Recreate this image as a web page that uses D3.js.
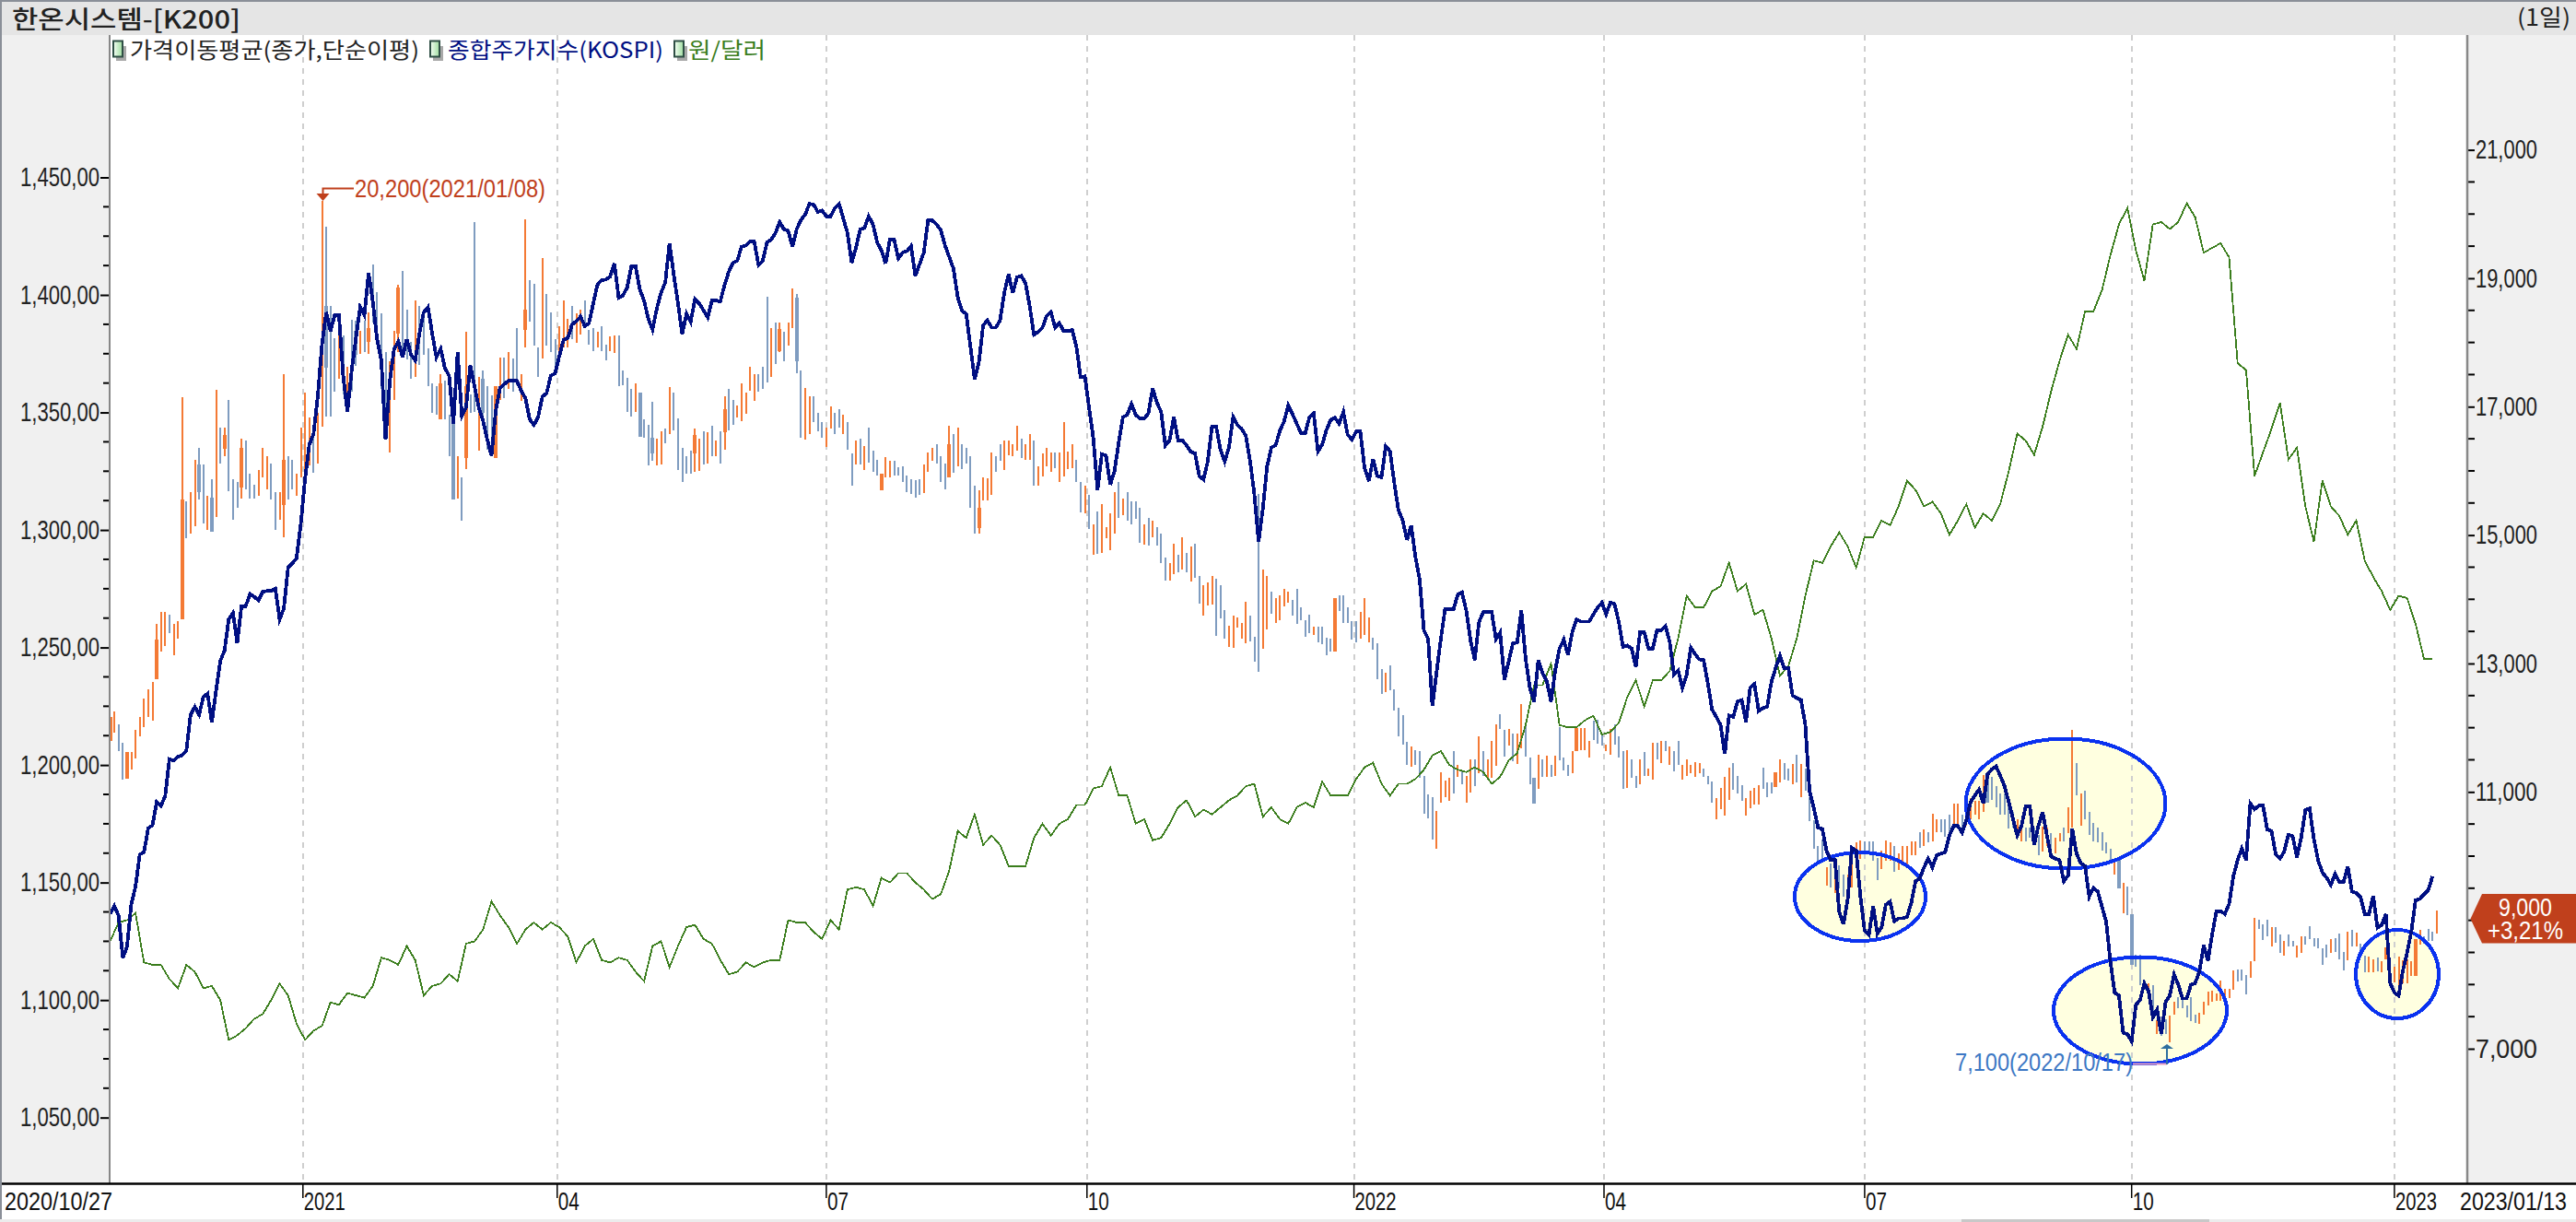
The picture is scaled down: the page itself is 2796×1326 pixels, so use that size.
<!DOCTYPE html>
<html>
<head>
<meta charset="utf-8">
<script src="https://cdn.jsdelivr.net/npm/d3@7"></script>
<style>
html, body { margin: 0; padding: 0; background: #fff; overflow: hidden; }
text { font-family: "Liberation Sans Narrow", "Liberation Sans", sans-serif; }
.kr { font-family: "Noto Sans CJK KR", sans-serif; }
</style>
</head>
<body>
<svg id="chart" width="2796" height="1326"></svg>
<script>
// 종합주가지수 - one value per session
var kospiClose = [
2330,2341,2328,2270,2285,2343,2368,2412,2415,2448,2452,2484,2479,2492,2543,2541,2546,2548,2555,2604,
2615,2604,2628,2633,2593,2637,2678,2692,2735,2744,2702,2753,2753,2770,2766,2761,2773,2774,2774,2777,
2735,2750,2806,2812,2819,2866,2928,2975,2990,3041,3113,3157,3131,3153,3153,3070,3020,3077,3121,3164,
3153,3211,3171,3120,3091,2982,3062,3106,3117,3095,3120,3099,3091,3128,3157,3164,3128,3095,3107,3080,
3070,3004,3102,3015,3026,3084,3055,3026,3008,2982,2960,3022,
3053,3058,3063,3063,3063,3049,3039,3010,3002,3013,3041,3046,3070,3073,3097,3119,3122,3140,3145,3151,
3138,3142,3169,3195,3201,3202,3206,3224,3177,3180,3191,3220,3220,3188,3173,3148,3133,3162,3184,3198,
3252,3209,3169,3127,3155,3144,3175,3169,3160,3150,3173,3173,3172,3195,3213,3225,3228,3247,3249,3254,
3254,3222,3228,3253,3257,3266,3281,3271,3269,3247,3271,3284,3291,3306,3305,3295,3297,3289,3289,3300,
3306,3286,3266,3225,3246,3271,3273,3289,3278,3253,3242,3224,3257,3257,3231,
3239,3241,3248,3207,3223,3239,3283,3283,3278,3270,3249,3233,3217,3178,3159,3155,3110,3065,3088,3139,
3146,3136,3136,3146,3184,3209,3184,3205,3207,3197,3165,3126,3130,3136,3152,3157,3136,3142,3131,3131,
3133,3110,3068,3069,3026,2984,2913,2962,2960,2920,2939,2978,3013,3016,3031,3016,3011,3011,3018,3052,
3033,3020,2974,2981,3013,2981,2981,2974,2965,2963,2932,2927,2952,3000,3000,2968,2952,2971,3013,3002,
2997,2987,2952,2907,2842,2887,2945,2971,2974,2994,3007,3029,3017,3004,
2991,2991,3013,3018,2966,2975,2995,3009,3012,3004,3020,2989,2982,2993,2993,2943,2925,2955,2932,2930,
2973,2966,2923,2885,2871,2844,2864,2821,2790,2720,2708,2616,2663,2708,2749,2749,2749,2769,2772,2747,
2706,2679,2731,2745,2745,2745,2708,2717,2652,2677,2702,2703,2747,2681,2641,2622,2679,2661,2650,2622,
2665,2695,2707,2686,2717,2735,2732,2732,2732,2742,2751,2758,2742,2758,2756,2731,2697,2699,2695,2670,
2717,2717,2695,2695,2720,2720,2726,2704,2659,2665,2641,2659,
2696,2687,2680,2679,2647,2611,2601,2590,2550,2603,2601,2622,2624,2594,2641,2646,2609,2613,2615,2649,
2668,2685,2668,2668,2630,2627,2624,2590,2499,2476,2449,2447,2417,2404,2404,2333,2316,2350,2421,2417,
2354,2307,2301,2341,2303,2312,2343,2347,2320,2324,2324,2326,2345,2375,2379,2394,2406,2394,2411,2413,
2415,2438,2451,2451,2442,2459,2484,2493,2501,2482,2522,2529,2533,2520,2506,2484,2461,2438,2451,2478,
2478,2425,2451,2470,2438,2409,2406,2404,2375,2383,2447,2413,2400,2396,2354,
2366,2361,2340,2319,2264,2222,2218,2167,2165,2155,2205,2212,2235,2224,2188,2199,2165,2209,2218,2247,
2233,2214,2214,2233,2235,2252,2287,2266,2302,2334,2334,2330,2344,2382,2404,2420,2404,2482,2474,2479,
2479,2446,2444,2412,2406,2416,2439,2437,2408,2435,2473,2475,2433,2404,2387,2380,2370,2385,2374,2374,
2395,2361,2359,2353,2330,2330,2355,2311,2315,2330,2235,2222,2218,2252,2277,2306,2349,2351,2357,2363,2382
];

// 원/달러 - one value every second session
var krwRate = [
1125,1133,1134,1137,1116,1115,1115,1109,1105,1115,1112,1105,1106,1100,1083,1085,1088,1092,1094,1100,
1107,1102,1090,1083,1087,1089,1099,1098,1103,1102,1101,1106,1118,1117,1115,1123,1117,1102,1106,1107,
1111,1108,1124,1125,1130,1142,1136,
1131,1124,1130,1133,1130,1133,1131,1127,1116,1123,1126,1117,1116,1118,1117,1112,1108,1123,1125,1114,
1123,1131,1132,1126,1124,1117,1111,1112,1116,1114,1116,1117,1117,1134,1133,1133,1129,1126,1134,1130,
1147,1148,1147,1140,1152,1150,1154,
1154,1150,1147,1143,1145,1155,1172,1169,1179,1166,1170,1166,1157,1157,1157,1169,1175,1170,1175,1177,
1183,1183,1190,1191,1199,1187,1187,1175,1177,1168,1169,1175,1182,1185,1178,1181,1179,1182,1185,1187,
1191,1192,1178,1182,1177,1175,1182,
1184,1182,1193,1187,1187,1187,1194,1199,1201,1192,1187,1192,1192,1194,1198,1204,1206,1200,1198,1197,
1199,1197,1192,1195,1202,1205,1217,1234,1234,1243,1217,1216,1216,1219,1221,1213,1214,1218,1229,1236,
1225,1236,1236,1240,1254,1272,
1267,1267,1274,1276,1286,1274,1277,1264,1266,1254,1238,1242,1254,1272,1287,1286,1293,1299,1293,1284,1297,1297,
1304,1302,1310,1321,1317,1310,1312,1307,1298,1304,1311,1301,1307,1304,1311,1325,1341,1338,1332,1344,
1359,1372,1383,1377,1393,1393,1402,1417,1430,1437,1419,1406,1430,1431,1428,1431,1439,1433,1418,1420,
1422,1416,1371,1368,1323,1333,1343,1354,1330,1335,1310,1295,1321,1310,1306,1298,1304,1287,1280,1274,
1266,1272,1271,1260,1245,1245
];

// 한온시스템 daily range, one entry per session
var barHigh = [
12170,12255,12050,11760,11620,11620,11970,12170,12460,12600,12710,13615,13800,13800,13755,13615,13655,17150,15520,15670,
16165,16355,16100,15605,15875,17260,16675,16675,17110,15875,15820,16495,16470,15960,15780,16015,16355,16225,16110,15670,
15670,17505,16225,16165,15960,16675,17220,16825,16715,16905,20200,19800,18570,18060,18225,18115,17620,18360,18345,18180,
18345,18470,19210,18780,18450,17850,17705,18180,18905,19110,18510,18015,18660,18570,18430,17910,17360,17315,17505,17400,
16880,16880,16225,15900,18165,17195,19870,17460,17565,17315,17170,17315,17770,17770,17847,17748,18225,17501,19913,18966,
18917,17929,19312,18760,18464,18053,18258,18653,18365,18571,18448,18505,18653,18201,18225,18160,18258,17970,18094,18110,
18110,17567,17452,17279,17361,17221,16802,16719,17073,16497,16621,16662,17312,17213,16818,16365,16226,16308,16662,16497,
16612,16596,16703,16472,16612,17156,17271,17106,17024,17361,17213,17625,17501,17501,17625,18711,18225,18308,18308,18160,
18308,18843,18760,17567,17295,17156,17156,16909,16761,16678,17007,16909,16966,16868,16761,16267,16472,16497,16390,16678,
16308,16168,15954,16209,16160,16160,16061,16077,15932,15873,15859,15873,16093,16283,16356,16422,16224,16115,16699,16575,
16677,16422,16356,16224,15764,15691,15895,15881,16283,16224,16422,16480,16480,16422,16699,16495,16422,16568,16480,16078,
16275,16356,16283,16283,16283,16758,16297,16422,16166,15822,15764,15625,15164,15362,15479,15128,15332,15676,15822,15566,
15676,15530,15530,15420,15164,15274,15223,15128,15018,14653,14557,14872,14689,14960,14726,14821,14872,14360,14214,14265,
14360,14324,14214,13826,13593,13739,13724,13629,13958,13739,13410,15639,14470,14360,14126,14017,14068,14163,14119,13995,
14163,13869,13669,13756,13577,13577,13577,13398,13387,14012,14063,14063,13869,13664,13664,13807,14012,13720,13398,13321,
12911,12860,12978,12604,12312,12194,11785,11708,11657,11631,11247,10966,10914,10710,11309,11170,11222,11631,11426,11324,
11247,11513,11513,11862,11631,11513,11800,12056,12210,11964,11974,11913,11913,12374,12056,11529,11222,11580,11513,11565,
11426,11565,12015,11529,11426,11631,11990,11990,11990,11800,12107,12118,11887,11734,11974,12056,11862,11631,11657,11513,
11247,11513,11616,11360,11769,11769,11800,11800,11708,11631,11800,11426,11513,11426,11462,11453,11358,11248,11166,10903,
11056,11228,11372,11453,11248,11104,10903,11023,11056,11104,11372,11152,11152,11310,11510,11453,11358,11429,11573,11429,
11358,10913,10559,10163,10258,9828,9890,9661,9852,9708,9708,10163,10210,10249,10225,10225,10225,9971,10091,10249,
10210,10163,10043,10163,10163,10225,10225,10368,10416,10368,10655,10569,10569,10569,10640,10822,10822,10640,10760,10903,
10855,10855,11262,11262,11238,11095,10975,10975,10770,10688,10569,10497,10449,10449,10449,10330,10464,10449,10354,10282,
10354,10449,10760,11969,11453,10975,11023,10688,10512,10450,10368,10211,10115,9924,9948,9589,9527,9102,8466,8466,
8060,8012,7988,7438,7438,7462,7510,7739,7797,7821,7677,7797,7534,7558,7725,7892,7902,7868,8060,7940,
7940,8213,8241,8241,8155,8361,9040,9016,8944,9016,8896,8896,8777,8681,8777,8681,8609,8753,8753,8906,
8729,8719,8562,8619,8715,8729,8791,8504,8825,8848,8810,8633,8456,8442,8394,8418,8361,8585,8380,8275,
8442,8380,8394,8370,8705,8848,8753,8872,8825,9159
];
var barLow = [
11800,11925,11640,11185,11210,11350,11515,11870,12010,12170,12115,12750,13180,13270,13475,13135,13385,13695,14945,15030,
15135,15550,15175,15080,15055,15285,16115,16230,15690,15235,15425,15565,15710,15565,15565,15615,15895,15710,15550,15080,
15245,14970,15550,15710,15605,15895,16035,16080,15975,16115,16685,16840,16840,17235,17440,17195,16920,17235,17630,17825,
17850,17825,18305,18060,17275,16575,16290,17110,17850,17850,17730,17440,17460,17645,17810,17315,16905,16880,16800,16800,
16225,15550,15565,15220,16025,16905,16920,16315,16865,16330,16245,16205,17110,17135,17271,17238,17337,17090,17929,18324,
17954,17460,17748,17954,17847,17625,17830,17929,17929,18053,17995,18118,18225,17970,17863,17929,17863,17723,17872,17830,
17320,17337,16925,16843,16925,16530,16514,16086,16160,16086,16102,16431,16580,16629,16020,15830,15954,15962,15979,16003,
16102,16119,16226,16226,16119,16324,16637,16719,16826,16777,16884,17254,17090,17230,17279,17378,17460,17666,17847,17707,
17954,18225,17518,16514,16489,16580,16761,16612,16514,16374,16662,16580,16678,16580,16324,15773,16102,16102,16020,16127,
15979,15921,15691,15896,15896,15921,15921,15830,15676,15639,15581,15625,15654,15990,16151,16115,15822,15712,15895,15968,
16078,16034,16115,15420,15018,15018,15544,15544,15625,15983,16151,16020,16239,16224,16319,16202,16173,16173,15771,15771,
15910,16078,15990,16041,15822,15917,16027,16041,15822,15347,15332,15091,14689,14704,14726,14945,14762,15018,15274,15310,
15223,15164,15259,14887,14850,14835,14960,14835,14557,14287,14287,14397,14419,14470,14419,14272,14338,13936,13739,13907,
13922,13424,13702,13388,13263,13249,13556,13388,13315,13337,13022,12876,13227,13534,13775,13629,13680,13885,13944,13753,
13615,13679,13423,13474,13449,13331,13295,13126,13193,13193,13817,13628,13628,13372,13331,13387,13449,13336,13218,12758,
12527,12553,12578,12271,11872,11734,11426,11385,11426,11222,10658,10582,10264,10121,10838,10914,10863,10981,11232,11119,
10838,10991,11094,11298,11247,11186,11222,11400,11979,11554,11718,11478,11442,11682,11554,11119,10812,11042,11237,11237,
11237,11247,11493,11339,11247,11298,11631,11647,11657,11529,11810,11749,11718,11631,11580,11734,11529,11042,11068,11222,
11068,11119,11247,11247,11186,11503,11452,11631,11426,11324,11426,11186,11247,11288,11237,11286,11238,11119,10832,10578,
10736,10626,10880,11033,10975,10856,10631,10750,10808,10808,11047,10913,10975,11071,11142,11190,11176,11114,11142,10913,
11023,10545,10115,9900,9900,9541,9517,9422,9493,9374,9350,9517,9923,9957,10043,10043,9923,9627,9804,9923,
9923,9756,9780,9876,9876,10019,10019,10129,10163,10210,10234,10378,10378,10306,10378,10449,10435,10449,10473,10578,
10640,10569,10688,10832,10880,10760,10640,10640,10435,10449,10306,10234,10234,10282,10258,10019,10067,10163,10067,10043,
10234,10234,10354,10449,10951,10473,10569,10330,10235,10211,10091,10043,9948,9709,9494,9111,9087,8308,8275,7997,
7916,7821,7510,7223,7199,7223,7100,7534,7630,7630,7486,7424,7405,7391,7534,7677,7725,7749,7749,7797,
7787,7916,8045,8060,7854,8107,8370,8872,8691,8753,8600,8657,8490,8456,8600,8600,8428,8490,8619,8705,
8600,8562,8313,8418,8490,8514,8394,8227,8380,8600,8600,8442,8189,8189,8189,8203,8189,8394,8060,8036,
7988,8012,8026,8141,8141,8619,8633,8681,8681,8801
];
var barUp = [
1,1,0,0,1,1,1,1,1,1, 1,1,1,1,0,1,1,1,0,1, 1,0,0,1,0,1,0,1,0,0, 0,1,0,0,0,1,1,1,0,0, 1,1,0,0,1,1,1,1,0,1,
1,0,0,0,1,0,1,0,0,1, 0,1,0,0,0,0,1,1,1,0, 0,0,1,0,0,0,0,0,1,0, 0,0,1,0,1,0,0,1,0,0, 0,1,1,0,1,0,0,1,1,0,
0,0,1,0,0,0,1,1,1,0, 1,1,0,0,0,1,0,0,1,1, 0,0,0,0,1,0,0,0,0,1, 1,0,1,0,0,0,0,0,1,1, 0,1,0,1,0,1,0,0,1,1,
1,1,1,0,0,0,1,0,1,0, 1,1,0,0,1,1,0,0,0,1, 1,0,0,1,0,0,1,0,1,0, 0,0,1,1,1,0,0,0,0,0, 0,0,1,1,1,0,0,0,1,0,
1,0,0,0,0,1,1,1,1,0, 0,1,1,1,1,0,1,1,0,1, 1,1,1,0,1,1,1,1,0,0, 1,0,1,0,1,1,1,1,0,1, 0,0,0,0,1,0,1,0,0,0,
1,1,0,1,0,1,0,0,1,1, 1,0,0,0,1,1,1,1,1,0, 0,0,1,1,0,1,1,1,1,0, 0,0,0,0,1,0,0,0,0,1, 0,0,0,0,0,1,1,1,0,0,
0,1,0,0,0,0,0,1,0,0, 0,0,0,1,1,1,1,0,1,0, 1,1,0,1,0,1,1,1,0,0, 1,0,1,1,0,0,0,1,0,1, 0,1,0,0,0,1,1,1,1,1,
0,0,0,1,1,0,0,0,1,0, 0,1,0,1,1,0,1,0,1,0, 0,1,1,1,1,1,0,0,0,1, 1,1,1,0,0,0,1,1,1,1, 0,0,0,1,1,0,0,1,0,1,
0,0,0,0,0,1,0,1,0,0, 1,1,1,1,0,0,0,0,1,1, 1,0,1,1,1,1,1,0,1,0, 1,1,0,0,0,1,1,0,1,1, 1,1,1,0,0,0,0,0,0,0,
1,1,0,0,0,0,1,1,0,1, 1,0,1,1,0,1,0,0,0,0, 0,0,0,1,0,1,0,0,0,0, 0,1,0,1,0,0,1,1,0,0, 0,0,0,1,1,1,1,1,1,1,
1,1,0,0,0,1,1,0,0,0, 1,0,0,1,0,0,1,1,0,0, 0,0,0,0,1,0,0,0,1,0, 1,0,0,1,1,0,1,1,0,1, 1,1,1,1,1,1,0,0,0,1
];

// sessions where the candle body shows as a fat stick
var wideSession = [0,4,11,17,21,24,27,31,41,51,58,61,68,78,81,84,88,91,98,125,128,138,145,158,162,182,198,205,289,336,346,393,443,474,477,537,544];
var wideHigh = [12170,11620,13367,15550,16100,15590,16560,16355,16165,18568,18180,18220,18856,17358,16880,17317,17440,17317,18505,17221,16514,16555,16966,18208,18695,15954,16422,15420,14012,11222,11990,11310,11262,9948,9102,8585,8705];
var wideLow = [11800,11210,12750,13695,15670,15055,16346,15737,15465,17605,17810,18015,18140,16800,15550,16206,16906,16206,18201,16530,16267,16267,16596,17871,17707,15691,15895,15106,13193,10812,11631,11071,10832,9494,8308,8394,8141];

var krwTicks = [1450,1400,1350,1300,1250,1200,1150,1100,1050];
var krwMinor = [1437.5,1425,1412.5,1387.5,1375,1362.5,1337.5,1325,1312.5,1287.5,1275,1262.5,1237.5,1225,1212.5,1187.5,1175,1162.5,1137.5,1125,1112.5,1087.5,1075,1062.5];
var priceTicks = [21000,19000,17000,15000,13000,11000,7000]; // 9,000 sits behind the last price tag
var priceMinor = [20500,20000,19500,18500,18000,17500,16500,16000,15500,14500,14000,13500,12500,12000,11500,10500,10000,9500,9000,8500,8000,7500];
var monthSession = [45.5,105.5,169,230.5,293.5,352.5,414,477,539];
var monthLabel = ["2021","04","07","10","2022","04","07","10","2023"];

var NAVY = "#000f82", GREEN = "#3a7d1c", UP = "#f47a35", DOWN = "#7f9cc0", MARK = "#c0401c";

var svg = d3.select("#chart");
var plotL = 119, plotR = 2678, plotT = 38, plotB = 1284;

var x = d3.scaleLinear().domain([0, 550]).range([119.5, 2649.5]);
var krwY = d3.scaleLinear().domain([1450, 1050]).range([192.5, 1212.7]);
var priceY = d3.scaleLinear().domain([21000, 7000]).range([162.6, 1138]);
var kospiY = d3.scaleLinear().domain([3305, 2155]).range([222, 1130]); // no axis of its own

function label(g, tx, ty, str, len, size, fill, anchor, cls) {
  return g.append("text").attr("x", tx).attr("y", ty).text(str)
    .attr("class", cls || null)
    .attr("font-size", size).attr("fill", fill).attr("text-anchor", anchor || "start")
    .attr("textLength", len).attr("lengthAdjust", "spacingAndGlyphs");
}

// panels
svg.append("rect").attr("width", 2796).attr("height", 1326).attr("fill", "#fff");
svg.append("rect").attr("x", 0).attr("y", plotT).attr("width", plotL).attr("height", plotB - plotT).attr("fill", "#f0f0f0");
svg.append("rect").attr("x", plotR).attr("y", plotT).attr("width", 2796 - plotR).attr("height", plotB - plotT).attr("fill", "#f0f0f0");
svg.append("rect").attr("x", 0).attr("y", 0).attr("width", 2796).attr("height", plotT).attr("fill", "#e5e5e5");
svg.append("rect").attr("x", 0).attr("y", 0).attr("width", 2796).attr("height", 2).attr("fill", "#8a8f98");
svg.append("rect").attr("x", 0).attr("y", 0).attr("width", 2).attr("height", 1326).attr("fill", "#8a8f98");
svg.append("rect").attr("x", 0).attr("y", 1323).attr("width", 2796).attr("height", 3).attr("fill", "#ececec");
svg.append("rect").attr("x", 2129).attr("y", 1323).attr("width", 269).attr("height", 3).attr("fill", "#c8c8c8");

// highlighted regions
var marks = [
  { cx: 2019, cy: 973, rx: 71, ry: 48 },
  { cx: 2242, cy: 872, rx: 108.5, ry: 70.5 },
  { cx: 2323, cy: 1096.5, rx: 94, ry: 58 },
  { cx: 2602, cy: 1057, rx: 45, ry: 48 }
];
svg.append("g").selectAll("ellipse").data(marks).join("ellipse")
  .attr("cx", function (d) { return d.cx; }).attr("cy", function (d) { return d.cy; })
  .attr("rx", function (d) { return d.rx; }).attr("ry", function (d) { return d.ry; })
  .attr("fill", "#ffffe0");

// month grid
svg.append("g").selectAll("line").data(monthSession).join("line")
  .attr("x1", function (d) { return x(d); }).attr("x2", function (d) { return x(d); })
  .attr("y1", plotT).attr("y2", plotB)
  .attr("stroke", "#cfcfcf").attr("stroke-width", 2).attr("stroke-dasharray", "6,6")
  .attr("shape-rendering", "crispEdges");

// price sticks
var barG = svg.append("g").attr("shape-rendering", "crispEdges");
barG.selectAll("rect.stick").data(barHigh).join("rect").attr("class", "stick")
  .attr("x", function (d, i) { return x(i) - 1; })
  .attr("y", function (d) { return priceY(d); })
  .attr("width", 2)
  .attr("height", function (d, i) { return priceY(barLow[i]) - priceY(d); })
  .attr("fill", function (d, i) { return barUp[i] ? UP : DOWN; });
barG.selectAll("rect.body").data(wideSession).join("rect").attr("class", "body")
  .attr("x", function (d) { return x(d) - 2; })
  .attr("y", function (d, i) { return priceY(wideHigh[i]); })
  .attr("width", 4)
  .attr("height", function (d, i) { return priceY(wideLow[i]) - priceY(wideHigh[i]); })
  .attr("fill", function (d) { return barUp[d] ? UP : DOWN; });

svg.append("g").selectAll("ellipse").data(marks).join("ellipse")
  .attr("cx", function (d) { return d.cx; }).attr("cy", function (d) { return d.cy; })
  .attr("rx", function (d) { return d.rx; }).attr("ry", function (d) { return d.ry; })
  .attr("fill", "none").attr("stroke", "#0a32f0").attr("stroke-width", 4)
  .attr("shape-rendering", "crispEdges");

// lines
var krwLine = d3.line().x(function (d, i) { return x(i * 2); }).y(function (d) { return krwY(d); });
var kospiLine = d3.line().x(function (d, i) { return x(i); }).y(function (d) { return kospiY(d); });
svg.append("path").attr("d", krwLine(krwRate)).attr("fill", "none").attr("stroke", GREEN).attr("stroke-width", 1.8)
  .attr("shape-rendering", "crispEdges");
svg.append("path").attr("d", kospiLine(kospiClose)).attr("fill", "none").attr("stroke", NAVY).attr("stroke-width", 3.8)
  .attr("shape-rendering", "crispEdges");

// left axis
var leftAxis = d3.axisLeft(krwY).tickValues(krwTicks).tickSize(10).tickPadding(1)
  .tickFormat(function (d) { return d3.format(",")(d) + ",00"; });
var leftG = svg.append("g").attr("transform", "translate(" + plotL + ",0)").call(leftAxis);
leftG.select(".domain").remove();
leftG.selectAll("line").attr("stroke", "#000").attr("stroke-width", 2);
leftG.selectAll("text").attr("font-size", 29).attr("font-family", "Liberation Sans Narrow, Liberation Sans").attr("fill", "#222")
  .attr("textLength", 86).attr("lengthAdjust", "spacingAndGlyphs");
svg.append("g").selectAll("line").data(krwMinor).join("line")
  .attr("x1", plotL - 7).attr("x2", plotL)
  .attr("y1", function (d) { return krwY(d); }).attr("y2", function (d) { return krwY(d); })
  .attr("stroke", "#000").attr("stroke-width", 2);
svg.append("line").attr("x1", plotL).attr("x2", plotL).attr("y1", plotT).attr("y2", plotB).attr("stroke", "#888").attr("stroke-width", 2);

// right axis
var rightAxis = d3.axisRight(priceY).tickValues(priceTicks).tickSize(8).tickPadding(1)
  .tickFormat(d3.format(","));
var rightG = svg.append("g").attr("transform", "translate(" + plotR + ",0)").call(rightAxis);
rightG.select(".domain").remove();
rightG.selectAll("line").attr("stroke", "#000").attr("stroke-width", 2);
rightG.selectAll("text").attr("font-size", 29).attr("font-family", "Liberation Sans Narrow, Liberation Sans").attr("fill", "#222")
  .attr("textLength", 67).attr("lengthAdjust", "spacingAndGlyphs");
svg.append("g").selectAll("line").data(priceMinor).join("line")
  .attr("x1", plotR).attr("x2", plotR + 8)
  .attr("y1", function (d) { return priceY(d); }).attr("y2", function (d) { return priceY(d); })
  .attr("stroke", "#000").attr("stroke-width", 2);
svg.append("line").attr("x1", plotR).attr("x2", plotR).attr("y1", plotT).attr("y2", plotB).attr("stroke", "#888").attr("stroke-width", 2.5);

// bottom axis
svg.append("line").attr("x1", 2).attr("x2", 2796).attr("y1", plotB + 0.5).attr("y2", plotB + 0.5).attr("stroke", "#000").attr("stroke-width", 2.5);
svg.append("g").selectAll("line").data(monthSession).join("line")
  .attr("x1", function (d) { return x(d); }).attr("x2", function (d) { return x(d); })
  .attr("y1", plotB).attr("y2", plotB + 16).attr("stroke", "#000").attr("stroke-width", 1.5);
var dateG = svg.append("g");
monthLabel.forEach(function (m, i) {
  label(dateG, x(monthSession[i]) + 1, 1313, m, m.length == 4 ? 45 : 23, 28, "#111");
});
label(dateG, 5, 1313, "2020/10/27", 117, 28, "#111");
label(dateG, 2670, 1313, "2023/01/13", 116, 28, "#111");

// title and legend
label(svg, 13, 31, "한온시스템-[K200]", 248, 27, "#222", "start", "kr").attr("font-weight", 500);
label(svg, 2790, 28, "(1일)", 58, 25, "#222", "end", "kr");
var legend = [
  { x: 122, tx: 141, text: "가격이동평균(종가,단순이평)", len: 314, color: "#222" },
  { x: 466, tx: 486, text: "종합주가지수(KOSPI)", len: 234, color: NAVY },
  { x: 731, tx: 747, text: "원/달러", len: 84, color: GREEN }
];
var defs = svg.append("defs");
var grad = defs.append("linearGradient").attr("id", "chip").attr("x1", 0).attr("x2", 1).attr("y1", 0).attr("y2", 0);
grad.append("stop").attr("offset", 0).attr("stop-color", "#f4fff4");
grad.append("stop").attr("offset", 1).attr("stop-color", "#9fdc9f");
legend.forEach(function (d) {
  svg.append("rect").attr("x", d.x + 4).attr("y", 50).attr("width", 11).attr("height", 16).attr("fill", "#a8a8a8");
  svg.append("rect").attr("x", d.x + 1).attr("y", 44.5).attr("width", 10).attr("height", 17)
    .attr("fill", "url(#chip)").attr("stroke", "#2f4f45").attr("stroke-width", 2);
  label(svg, d.tx, 63, d.text, d.len, 24, d.color, "start", "kr");
});

// high and low notes
var hiNote = svg.append("g");
hiNote.append("path").attr("fill", "none").attr("stroke", MARK).attr("stroke-width", 2)
  .attr("d", d3.line()([[x(50) + 1, priceY(20200) - 5], [x(50) + 1, 204.5], [384, 204.5]]));
hiNote.append("path").attr("fill", MARK)
  .attr("d", d3.line()([[x(50) - 6, 210], [x(50) + 8, 210], [x(50) + 1, 218]]) + "Z");
label(hiNote, 385, 214, "20,200(2021/01/08)", 207, 28, MARK);

var loNote = svg.append("g");
label(loNote, 2122, 1162, "7,100(2022/10/17)", 193, 28, "#3d78c4");
loNote.append("line").attr("x1", 2315).attr("x2", 2352).attr("y1", 1154.5).attr("y2", 1154.5).attr("stroke", "#e8a0c0").attr("stroke-width", 2);
loNote.append("line").attr("x1", 2352).attr("x2", 2352).attr("y1", 1136).attr("y2", 1155).attr("stroke", "#2f6f9f").attr("stroke-width", 2);
loNote.append("path").attr("fill", "#2f6f9f").attr("d", d3.line()([[2345, 1138], [2359, 1138], [2352, 1133]]) + "Z");

// last price tag
var lastPrice = "9,000", lastChange = "+3,21%";
svg.append("path").attr("fill", MARK)
  .attr("d", d3.line()([[2681.5, 997], [2694, 970], [2796, 970], [2796, 1023.5], [2694, 1023.5]]) + "Z");
label(svg, 2741, 994, lastPrice, 58, 27, "#fff", "middle");
label(svg, 2741, 1019, lastChange, 82, 27, "#fff", "middle");
</script>
</body>
</html>
